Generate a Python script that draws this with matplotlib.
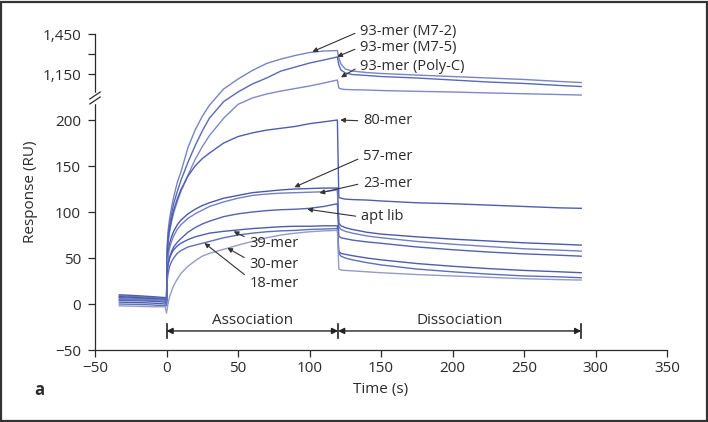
import numpy as np
import matplotlib
matplotlib.use("Agg")
import matplotlib.pyplot as plt
from matplotlib.patches import Rectangle
from matplotlib.ticker import FuncFormatter, FixedLocator

plt.rcParams['font.family'] = ['Open Sans', 'DejaVu Sans']

# ---------------- data ----------------
t_base = [-33, -20, -10, -1]
t_assoc = [0, 0.5, 1, 2, 3.5, 5, 7.5, 10, 15, 20, 25, 30, 40, 50, 60, 70, 80, 90, 100, 110, 119.5]
t_dissoc = [120.5, 122, 125, 130, 140, 150, 175, 200, 225, 250, 275, 290]

names = ['93-mer (M7-2)', '93-mer (M7-5)', '93-mer (Poly-C)', '80-mer', '57-mer',
         '23-mer', 'apt lib', '39-mer', '18-mer', '30-mer']

m72_base = [9, 8, 7, 6]
m72_assoc = [4, 64, 78, 91, 105, 116, 132, 143, 170, 189, 204, 216, 1038, 1112, 1176, 1229, 1262, 1289, 1311, 1322, 1326]
m72_dissoc = [1270, 1225, 1188, 1172, 1161, 1154, 1142, 1131, 1120, 1109, 1094, 1086]

m75_base = [7, 6, 5.5, 5]
m75_assoc = [4, 59, 72, 85, 98, 109, 122, 134, 154, 172, 188, 202, 220, 1015, 1075, 1120, 1172, 1202, 1232, 1255, 1278]
m75_dissoc = [1218, 1180, 1158, 1146, 1139, 1131, 1120, 1105, 1090, 1079, 1064, 1056]

polyc_base = [5, 4.5, 4, 3]
polyc_assoc = [4, 53, 65, 77, 89, 99, 111, 122, 140, 157, 171, 183, 202, 217, 970, 1000, 1022, 1041, 1060, 1082, 1105]
polyc_dissoc = [1045, 1038, 1034, 1032, 1030, 1026, 1020, 1015, 1008, 1002, 996, 992]

m80_base = [10, 9, 8, 7]
m80_assoc = [2, 55, 68, 80, 92, 102, 114, 124, 139, 150, 158, 164, 175, 182, 186, 189, 191, 193, 196, 198, 200]
m80_dissoc = [116, 115, 114, 113.5, 113, 112, 110, 109, 107.5, 106, 104.5, 104]

m57_base = [8, 7, 6, 5]
m57_assoc = [3, 45, 55, 65, 73, 79, 86, 91, 98, 103, 107, 110, 115, 118, 121, 122.5, 124, 125, 125.5, 126, 126]
m57_dissoc = [88, 85, 83, 81, 78, 76, 73, 70.5, 68.5, 66.5, 65, 64]

m23_base = [6, 5, 4.5, 4]
m23_assoc = [2, 40, 50, 60, 68, 74, 81, 86, 93, 98, 102, 106, 111, 115, 118, 119.5, 120.5, 121, 121.5, 122, 124]
m23_dissoc = [84, 81, 79, 77, 74, 72, 68, 65, 62.5, 60, 58.5, 57.5]

apt_base = [4, 3.5, 3, 2]
apt_assoc = [1, 35, 42, 50, 57, 62, 67, 71, 78, 83, 87, 90, 95, 98, 100, 101.5, 102.5, 103, 104, 106, 109]
apt_dissoc = [74, 72, 71, 69.5, 67.5, 66, 62, 59, 56.5, 54.5, 53, 52]

m39_base = [2, 1.5, 1, 0]
m39_assoc = [0, 35, 42, 49, 55, 59, 63, 66, 70, 73, 75, 77, 79, 80.5, 82, 83, 84, 84.5, 84.5, 85, 85]
m39_dissoc = [57, 55, 54, 52.5, 50, 48, 44, 41, 38.5, 36.5, 35, 34]

m18_base = [0, -0.5, -1, -2]
m18_assoc = [-2, 25, 32, 40, 46, 50, 55, 58, 62, 64, 66, 68, 72, 75, 77, 78.5, 79.5, 80, 81, 81.5, 82]
m18_dissoc = [55, 52, 50, 48, 45, 42.5, 38, 35, 32.5, 30.5, 29.5, 28.5]

m30_base = [-2, -2.5, -3, -3]
m30_assoc = [-10, -5, 0, 7, 14, 20, 27, 33, 41, 47, 52, 55, 59.5, 64, 68, 72, 75, 77, 78.5, 79.5, 80]
m30_dissoc = [38, 37, 36.5, 36, 35, 34, 32, 30.5, 29, 27.5, 26.5, 26]

x_ticks = [-50, 0, 50, 100, 150, 200, 250, 300, 350]
y_ticks = [-50, 0, 50, 100, 150, 200, 1150, 1450]
y_minor = [1300]
phase_edges = [0, 120, 290]
phase_names = ['Association', 'Dissociation']

series = [
    (m72_base, m72_assoc, m72_dissoc, '#7784c6'),
    (m75_base, m75_assoc, m75_dissoc, '#5a69b4'),
    (polyc_base, polyc_assoc, polyc_dissoc, '#7d89c8'),
    (m80_base, m80_assoc, m80_dissoc, '#4d5db0'),
    (m57_base, m57_assoc, m57_dissoc, '#4a5aab'),
    (m23_base, m23_assoc, m23_dissoc, '#7280c2'),
    (apt_base, apt_assoc, apt_dissoc, '#5262b0'),
    (m39_base, m39_assoc, m39_dissoc, '#4d5dae'),
    (m18_base, m18_assoc, m18_dissoc, '#5f6eb8'),
    (m30_base, m30_assoc, m30_dissoc, '#929cca'),
]

# ---------------- broken y scale ----------------
LOW_TOP = 222.0
HIGH_BOT = 962.5
SLOPE_HI = (40 / 300) / (46 / 50)
U_HI = 250 + (HIGH_BOT - 1150) * SLOPE_HI
V_PTS = [-1e4, LOW_TOP, HIGH_BOT, 1e5]
U_PTS = [-1e4, LOW_TOP, U_HI, U_HI + (1e5 - HIGH_BOT) * SLOPE_HI]


def fwd(v):
    return np.interp(v, V_PTS, U_PTS)


def inv(u):
    return np.interp(u, U_PTS, V_PTS)


fig = plt.figure(figsize=(7.08, 4.22), dpi=100)
ax = fig.add_axes([95 / 708, 1 - 350 / 422, 572 / 708, 316 / 422])
ax.set_yscale('function', functions=(fwd, inv))
ax.set_xlim(-50, 350)
ax.set_ylim(-50, 1450)

t_all = t_base + t_assoc + t_dissoc
for b, a, d, c in series:
    ax.plot(t_all, b + a + d, color=c, lw=1.0, solid_joinstyle='round')

ink = '#2b2b2b'
for s in ['top', 'right']:
    ax.spines[s].set_visible(False)
for s in ['left', 'bottom']:
    ax.spines[s].set_color(ink)
    ax.spines[s].set_linewidth(0.9)

ax.xaxis.set_major_locator(FixedLocator(x_ticks))
ax.yaxis.set_major_locator(FixedLocator(y_ticks))
ax.yaxis.set_minor_locator(FixedLocator(y_minor))
fmt = FuncFormatter(lambda v, _: f"{v:,.0f}".replace('-', '\u2212'))
ax.xaxis.set_major_formatter(fmt)
ax.yaxis.set_major_formatter(fmt)
ax.yaxis.set_minor_formatter(FuncFormatter(lambda v, _: ''))
ax.tick_params(axis='both', which='both', direction='out', length=5, width=0.9,
               color=ink, labelcolor=ink, labelsize=11)
ax.tick_params(axis='y', pad=5)
ax.tick_params(axis='x', pad=3)

# break marks on the y spine
ybrk = [(350 - 95.5) / 316, (350 - 100.5) / 316]
ax.plot([0, 0], [ybrk[0] + 0.004, ybrk[1] - 0.004], transform=ax.transAxes,
        color='white', lw=2.5, clip_on=False, zorder=5)
for yb in ybrk:
    ax.plot([-0.009, 0.009], [yb - 0.011, yb + 0.011], transform=ax.transAxes,
            color=ink, lw=0.9, clip_on=False, zorder=6)

# ---------------- annotations ----------------
label_pos = {
    '93-mer (M7-2)': ((135.5, 1472), (102, 1317), (0, 0.5)),
    '93-mer (M7-5)': ((135.5, 1352), (119.4, 1280), (0, 0.5)),
    '93-mer (Poly-C)': ((135.5, 1210), (122, 1125), (0, 0.5)),
    '80-mer': ((137.6, 199), (121.5, 200), (0, 0.5)),
    '57-mer': ((137.6, 160), (89.4, 127), (0, 0.5)),
    '23-mer': ((137.6, 131.5), (107, 120.6), (0, 0.5)),
    'apt lib': ((136.2, 94.6), (98.5, 103), (0, 0.5)),
    '39-mer': ((58, 66.3), (47, 79), (0, 0.75)),
    '30-mer': ((58, 42.4), (42.6, 60.9), (0, 0.8)),
    '18-mer': ((58, 22.8), (26.5, 66.3), (0, 0.8)),
}
for name in names:
    txy, tip, rp = label_pos[name]
    ax.annotate(name, xy=tip, xytext=txy, ha='left', va='center', fontsize=10.5,
                color=ink, annotation_clip=False,
                arrowprops=dict(arrowstyle='-|>', color='#333333', lw=0.8,
                                mutation_scale=7, shrinkA=2, shrinkB=0, relpos=rp))

# association / dissociation markers
for i, name in enumerate(phase_names):
    t0, t1 = phase_edges[i], phase_edges[i + 1]
    ax.annotate('', xy=(t0, -29.3), xytext=(t1, -29.3),
                arrowprops=dict(arrowstyle='<|-|>', color='#222222', lw=1.0,
                                mutation_scale=9, shrinkA=0, shrinkB=0))
    ax.text((t0 + t1) / 2, -17.5, name, ha='center', va='center', fontsize=11, color=ink)
for te in phase_edges:
    ax.plot([te, te], [-21.5, -36.5], color='#222222', lw=1.2)

fig.text(30 / 708, 1 - 192 / 422, 'Response (RU)', rotation=90, ha='center', va='center',
         fontsize=11, color=ink)
fig.text(381 / 708, 1 - 390 / 422, 'Time (s)', ha='center', va='center', fontsize=11, color=ink)
fig.text(39 / 708, 1 - 390 / 422, 'a', ha='center', va='center', fontsize=12,
         fontweight='bold', color=ink)

fig.add_artist(Rectangle((0.5 / 708, 1 / 422), 706 / 708, 419 / 422, transform=fig.transFigure,
                         fill=False, ec='#333333', lw=1.6))

fig.savefig('out.png', dpi=100)
